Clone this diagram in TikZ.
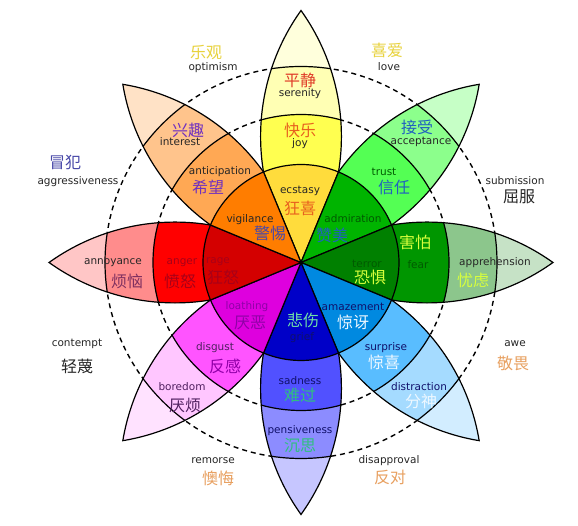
\documentclass[tikz,border=0pt]{standalone}
\usepackage{fontspec}
\setmainfont{DejaVu Sans}
\newfontfamily\cjk{Noto Sans CJK SC}
% petal colours: inner, ring2, ring3, tip
\definecolor{joyA}{HTML}{FFDC3C}\definecolor{joyB}{HTML}{FFFF50}\definecolor{joyC}{HTML}{FFFFB4}\definecolor{joyD}{HTML}{FFFFDC}
\definecolor{truA}{HTML}{00B400}\definecolor{truB}{HTML}{54FF54}\definecolor{truC}{HTML}{8CFF8C}\definecolor{truD}{HTML}{C6FFC6}
\definecolor{feaA}{HTML}{008000}\definecolor{feaB}{HTML}{009600}\definecolor{feaC}{HTML}{8CC68C}\definecolor{feaD}{HTML}{C6E2C6}
\definecolor{surA}{HTML}{0089E0}\definecolor{surB}{HTML}{59BDFF}\definecolor{surC}{HTML}{A5DBFF}\definecolor{surD}{HTML}{D2EDFF}
\definecolor{sadA}{HTML}{0000C8}\definecolor{sadB}{HTML}{5151FF}\definecolor{sadC}{HTML}{8C8CFF}\definecolor{sadD}{HTML}{C6C6FF}
\definecolor{disA}{HTML}{DE00DE}\definecolor{disB}{HTML}{FF54FF}\definecolor{disC}{HTML}{FFC6FF}\definecolor{disD}{HTML}{FFE2FF}
\definecolor{angA}{HTML}{D40000}\definecolor{angB}{HTML}{FF0000}\definecolor{angC}{HTML}{FF8C8C}\definecolor{angD}{HTML}{FFC6C6}
\definecolor{antA}{HTML}{FF7D00}\definecolor{antB}{HTML}{FFA854}\definecolor{antC}{HTML}{FFC48C}\definecolor{antD}{HTML}{FFE2C6}
% text colours
\definecolor{tYel}{HTML}{E8D23C}
\definecolor{tBluP}{HTML}{4848A8}
\definecolor{tDark}{HTML}{262626}
\definecolor{tOra}{HTML}{E8A060}
\definecolor{tRed}{HTML}{E03C28}
\definecolor{tRedO}{HTML}{E8601E}
\definecolor{tBlue}{HTML}{2060C0}
\definecolor{tLime}{HTML}{D8FF3C}
\definecolor{tWhite}{HTML}{EEF8FF}
\definecolor{tMint}{HTML}{70E0A8}
\definecolor{tGreen}{HTML}{30C080}
\definecolor{tPurp}{HTML}{7030C0}
\definecolor{tMag}{HTML}{9000A8}
\definecolor{tPlum}{HTML}{502060}
\definecolor{tWine}{HTML}{803060}
\definecolor{tDRed}{HTML}{A80018}
\definecolor{tDGreen}{HTML}{005A00}
\definecolor{tNavy}{HTML}{10106A}
\newcommand\mylens{(0,0) arc[start angle=125.57,end angle=54.43,radius=216.6pt] arc[start angle=-54.43,end angle=-125.57,radius=216.6pt] -- cycle}
\newcommand\mypetal[4]{%
\begin{scope}[rotate=#1]
 \begin{scope}
  \clip \mylens;
  \fill[#4] (0,0) circle[radius=260pt];
  \fill[#3] (0,0) circle[radius=196pt];
  \fill[#2] (0,0) circle[radius=148pt];
  \draw[petalline] (0,0) circle[radius=196pt] (0,0) circle[radius=148pt];
 \end{scope}
 \draw[petalline] \mylens;
\end{scope}}
\newcommand\mysector[2]{%
\fill[#2,petalline,draw] (0,0) -- (#1-22.5:98pt) arc[start angle=#1-22.5,end angle=#1+22.5,radius=98pt] -- cycle;}
\begin{document}
\begin{tikzpicture}[x=1pt,y=1pt,
  petalline/.style={draw=black,line width=1.2pt},
  ring/.style={draw=black,line width=1.4pt,dash pattern=on 5pt off 4pt},
  en/.style={font=\fontsize{10.5}{12}\selectfont,inner sep=0pt},
  zh/.style={font=\cjk\fontsize{16}{18}\selectfont,inner sep=0pt}]
\useasboundingbox (0,0) rectangle (578,526);
\fill[white] (0,0) rectangle (578,526);
\begin{scope}[shift={(301,263.5)}]
 \draw[ring] (0,0) circle[radius=196pt];
 \draw[ring] (0,0) circle[radius=148pt];
 \mypetal{90}{joyB}{joyC}{joyD}
 \mypetal{45}{truB}{truC}{truD}
 \mypetal{0}{feaB}{feaC}{feaD}
 \mypetal{-45}{surB}{surC}{surD}
 \mypetal{-90}{sadB}{sadC}{sadD}
 \mypetal{-135}{disB}{disC}{disD}
 \mypetal{180}{angB}{angC}{angD}
 \mypetal{135}{antB}{antC}{antD}
 \mysector{90}{joyA}
 \mysector{45}{truA}
 \mysector{0}{feaA}
 \mysector{-45}{surA}
 \mysector{-90}{sadA}
 \mysector{-135}{disA}
 \mysector{180}{angA}
 \mysector{135}{antA}
\end{scope}
\begin{scope}[shift={(0,526)},yscale=-1]
 % outer dyads
 \node[zh,text=tYel] (optZ) at (206,53) {乐观};
 \node[en,text=tDark] (optE) at (213,68) {optimism};
 \node[zh,text=tYel] (lovZ) at (387,50) {喜爱};
 \node[en,text=tDark] (lovE) at (389,67) {love};
 \node[zh,text=tBluP] (aggZ) at (65,162) {冒犯};
 \node[en,text=tDark] (aggE) at (78,182) {aggressiveness};
 \node[en,text=tDark] (subE) at (515,181) {submission};
 \node[zh,text=tDark] (subZ) at (519,197) {屈服};
 \node[en,text=tDark] (conE) at (77,344) {contempt};
 \node[zh,text=tDark] (conZ) at (77,366) {轻蔑};
 \node[en,text=tDark] (aweE) at (515,344) {awe};
 \node[zh,text=tOra] (aweZ) at (513,363) {敬畏};
 \node[en,text=tDark] (remE) at (213,461) {remorse};
 \node[zh,text=tOra] (remZ) at (218,478) {懊悔};
 \node[en,text=tDark] (dapE) at (389,461) {disapproval};
 \node[zh,text=tOra] (dapZ) at (390,477) {反对};
 % joy
 \node[zh,text=tRed] (serZ) at (300,80) {平静};
 \node[en,text=tDark] (serE) at (300,94) {serenity};
 \node[zh,text=tRedO] (joyZ) at (300,130) {快乐};
 \node[en,text=tDark] (joyE) at (300,144) {joy};
 \node[en,text=tDark] (ecsE) at (300,191) {ecstasy};
 \node[zh,text=tRedO] (ecsZ) at (300,208) {狂喜};
 % trust
 \node[zh,text=tBlue] (accZ) at (417,127) {接受};
 \node[en,text=tDark] (accE) at (421,142) {acceptance};
 \node[en,text=tDGreen] (truE) at (384,172) {trust};
 \node[zh,text=tBlue] (truZ) at (394,187) {信任};
 \node[en,text=tDGreen] (admE) at (353,219) {admiration};
 \node[zh,text=tBlue] (admZ) at (332,235) {赞美};
 % fear
 \node[zh,text=tLime] (feaZ) at (415,242) {害怕};
 \node[en,text=tDGreen] (feaE) at (418,265) {fear};
 \node[en,text=tDGreen] (terE) at (367,264) {terror};
 \node[zh,text=tLime] (terZ) at (370,277) {恐惧};
 \node[en,text=tDark] (appE) at (495,263) {apprehension};
 \node[zh,text=tLime] (appZ) at (473,280) {忧虑};
 % surprise
 \node[en,text=tNavy] (amaE) at (353,307) {amazement};
 \node[zh,text=tWhite] (amaZ) at (353,322) {惊讶};
 \node[en,text=tNavy] (surE) at (386,348) {surprise};
 \node[zh,text=tWhite] (surZ) at (384,362) {惊喜};
 \node[en,text=tNavy] (disE) at (419,387) {distraction};
 \node[zh,text=tWhite] (disZ) at (421,401) {分神};
 % sadness
 \node[zh,text=tMint] (griZ) at (303,320) {悲伤};
 \node[en,text=tNavy] (griE) at (302,338) {grief};
 \node[en,text=tNavy] (sadE) at (300,381) {sadness};
 \node[zh,text=tGreen] (sadZ) at (300,395) {难过};
 \node[en,text=tNavy] (penE) at (300,431) {pensiveness};
 \node[zh,text=tGreen] (penZ) at (300,446) {沉思};
 % disgust
 \node[en,text=tMag] (loaE) at (247,307) {loathing};
 \node[zh,text=tMag] (loaZ) at (250,323) {厌恶};
 \node[en,text=tPlum] (dsgE) at (215,348) {disgust};
 \node[zh,text=tMag] (dsgZ) at (225,366) {反感};
 \node[en,text=tPlum] (borE) at (182,387) {boredom};
 \node[zh,text=tPlum] (borZ) at (185,405) {厌烦};
 % anger
 \node[en,text=tDRed] (ragE) at (218,262) {rage};
 \node[zh,text=tDRed] (ragZ) at (223,277) {狂怒};
 \node[en,text=tDRed] (angE) at (182,263) {anger};
 \node[zh,text=tDRed] (angZ) at (180,281) {愤怒};
 \node[en,text=tDark] (annE) at (113,263) {annoyance};
 \node[zh,text=tWine] (annZ) at (127,281) {烦恼};
 % anticipation
 \node[zh,text=tPurp] (intZ) at (188,130) {兴趣};
 \node[en,text=tDark] (intE) at (180,142) {interest};
 \node[en,text=tDark] (antE) at (220,172) {anticipation};
 \node[zh,text=tPurp] (antZ) at (208,187) {希望};
 \node[en,text=tDark] (vigE) at (250,220) {vigilance};
 \node[zh,text=tBluP] (vigZ) at (270,233) {警惕};
\end{scope}
\end{tikzpicture}
\end{document}
